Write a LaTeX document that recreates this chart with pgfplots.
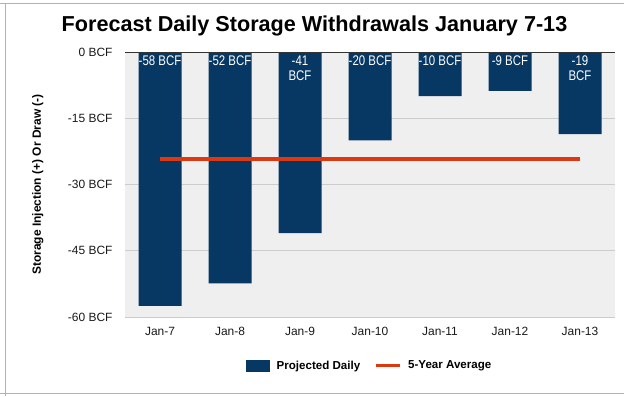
\documentclass[border=0pt]{standalone}
\usepackage{pgfplots}
\pgfplotsset{compat=1.18}
\usepackage{fontspec}
\setmainfont{Liberation Sans}
\newfontfamily\narrowf[FakeStretch=0.82]{Liberation Sans}
\definecolor{navy}{HTML}{073763}
\definecolor{redl}{HTML}{DC3912}
\definecolor{bggray}{HTML}{EFEFEF}
\definecolor{gridc}{HTML}{CCCCCC}
\begin{document}
\begin{tikzpicture}[x=1bp,y=1bp]
\path[use as bounding box] (0,0) rectangle (624,396);
\draw[gray!60, line width=0.8bp] (0,393) -- (624,393);
\draw[gray!60, line width=0.8bp] (5.5,0) -- (5.5,393);
\draw[gray!60, line width=0.8bp] (0,3) -- (624,3);
\node[font=\bfseries\fontsize{21.7}{24}\selectfont] at (314.5,370) {Forecast Daily Storage Withdrawals January 7-13};
\begin{axis}[
  at={(125bp,79bp)}, anchor=south west,
  scale only axis, width=490bp, height=265bp,
  xmin=-0.5, xmax=6.5, ymin=-60, ymax=0,
  axis background/.style={fill=bggray},
  axis line style={draw=none},
  tick style={draw=none},
  xtick={0,1,2,3,4,5,6},
  xticklabels={Jan-7,Jan-8,Jan-9,Jan-10,Jan-11,Jan-12,Jan-13},
  ytick={-60,-45,-30,-15,0},
  yticklabels={-60 BCF,-45 BCF,-30 BCF,-15 BCF,0 BCF},
  ymajorgrids, grid style={gridc, line width=0.8bp},
  ticklabel style={font=\fontsize{12}{14}\selectfont, text=black!90},
  yticklabel style={xshift=-9bp},
  xticklabel style={yshift=-7bp},
  ylabel={\bfseries Storage Injection (+) Or Draw (-)},
  ylabel style={font=\fontsize{12}{14}\selectfont, at={(axis description cs:-0.178,0.5)}, anchor=center},
  legend columns=2,
  legend style={draw=none, fill=none, at={(axis description cs:0.499,-0.184)}, anchor=center,
    font=\bfseries\fontsize{11.6}{13}\selectfont, column sep=5bp,
    /tikz/every even column/.append style={column sep=12bp}},
]
\addplot[ybar, bar width=43bp, fill=navy, draw=none,
  legend image code/.code={\fill[navy] (0bp,-6bp) rectangle (24bp,6bp);}]
  coordinates {(0,-57.5) (1,-52.4) (2,-41) (3,-20) (4,-10) (5,-8.8) (6,-18.6)};
\addlegendentry{Projected Daily}
\addplot[redl, line width=4bp, no marks,
  legend image code/.code={\draw[redl, line width=3bp] (0bp,0bp) -- (24bp,0bp);}]
  coordinates {(0,-24.3) (6,-24.3)};
\addlegendentry{5-Year Average}
\addplot[draw=none, no marks, forget plot, point meta=explicit symbolic,
  nodes near coords,
  every node near coord/.style={anchor=north, yshift=-2bp, text=white, align=center,
    font=\narrowf\fontsize{14}{15}\selectfont, inner sep=2bp}]
  table[meta=lab, row sep=\\] {
  x y lab\\
  0 0 {-58 BCF}\\
  1 0 {-52 BCF}\\
  2 0 {-41\\BCF}\\
  3 0 {-20 BCF}\\
  4 0 {-10 BCF}\\
  5 0 {-9 BCF}\\
  6 0 {-19\\BCF}\\
  };
\draw[black!80, line width=1.2bp] (axis cs:-0.5,0) -- (axis cs:6.5,0);
\end{axis}
\end{tikzpicture}
\end{document}
